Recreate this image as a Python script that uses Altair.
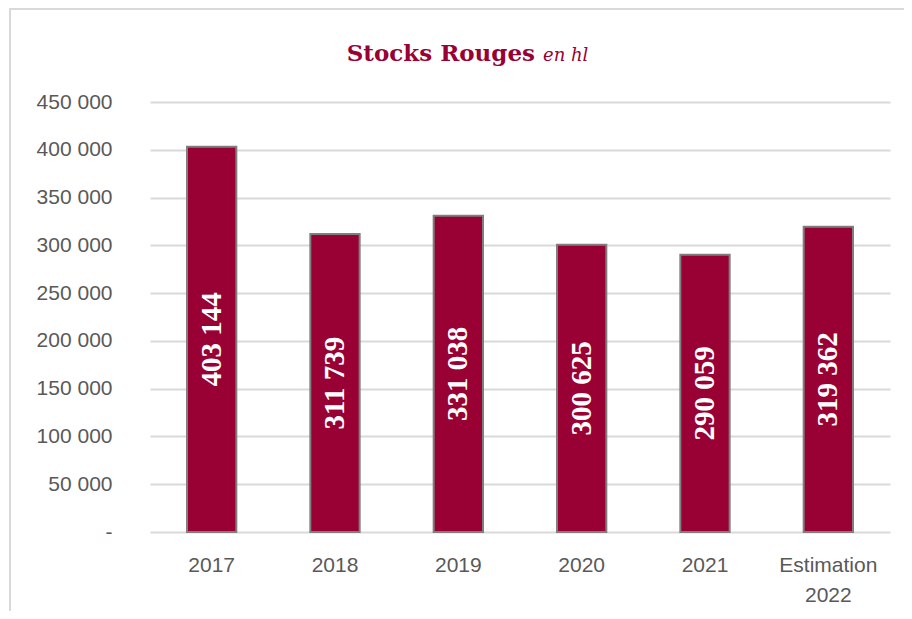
import altair as alt
import pandas as pd

categories = ["2017", "2018", "2019", "2020", "2021", "Estimation 2022"]
values = [403144, 311739, 331038, 300625, 290059, 319362]
y_ticks = [0, 50000, 100000, 150000, 200000, 250000, 300000, 350000, 400000, 450000]

def fmt(v):
    return f"{v:,}".replace(",", " ")

df = pd.DataFrame({
    "cat": categories,
    "value": values,
    "label": [fmt(v) for v in values],
})

W, H = 740, 430
RED = "#990033"

base = alt.Chart(df)

x_enc = alt.X(
    "cat:N", sort=categories, title=None,
    scale=alt.Scale(paddingInner=0.6, paddingOuter=0.3),
    axis=alt.Axis(
        labelAngle=0, ticks=False, domain=False, labelPadding=22,
        labelFont="Liberation Sans", labelFontSize=21, labelColor="#595959",
        labelBaseline="top", labelLineHeight=30,
        labelExpr="datum.label == 'Estimation 2022' ? ['Estimation', '2022'] : datum.label",
    ),
)
y_enc = alt.Y(
    "value:Q", title=None,
    scale=alt.Scale(domain=[0, 450000], nice=False),
    axis=alt.Axis(
        values=y_ticks, ticks=False, domain=False, labelPadding=38,
        labelFont="Liberation Sans", labelFontSize=21, labelColor="#595959",
        grid=True, gridColor="#d9d9d9", gridWidth=2,
        labelExpr="datum.value == 0 ? '-' : replace(format(datum.value, ','), ',', ' ')",
    ),
)

bars = base.mark_bar(color=RED, stroke="#7f7f7f", strokeWidth=2).encode(x=x_enc, y=y_enc)

labels = base.transform_calculate(mid="datum.value / 2").mark_text(
    angle=270, align="center", baseline="middle", color="white",
    font="Liberation Serif", fontWeight="bold", fontSize=29,
).encode(
    x=alt.X("cat:N", sort=categories),
    y=alt.Y("mid:Q"),
    text="label:N",
)

title_df = pd.DataFrame({"t1": ["Stocks Rouges"], "t2": ["en hl"]})
t1 = alt.Chart(title_df).mark_text(
    align="right", baseline="alphabetic", color=RED,
    font="DejaVu Serif", fontWeight="bold", fontSize=23,
).encode(x=alt.value(385), y=alt.value(-41), text="t1:N")
t2 = alt.Chart(title_df).mark_text(
    align="left", baseline="alphabetic", color=RED,
    font="DejaVu Serif", fontStyle="italic", fontSize=18,
).encode(x=alt.value(393), y=alt.value(-41), text="t2:N")

border = alt.Chart(title_df).mark_rect(
    fillOpacity=0, stroke="#d9d9d9", strokeWidth=2,
).encode(x=alt.value(-140), x2=alt.value(800), y=alt.value(-93), y2=alt.value(560))

chart = alt.layer(border, bars, labels, t1, t2).properties(
    width=W, height=H,
    autosize=alt.AutoSizeParams(type="none"),
    padding={"left": 142, "top": 94, "right": 14, "bottom": 79},
).configure_view(stroke=None)

chart.save("out.html", embed_options={"renderer": "svg", "actions": False})
